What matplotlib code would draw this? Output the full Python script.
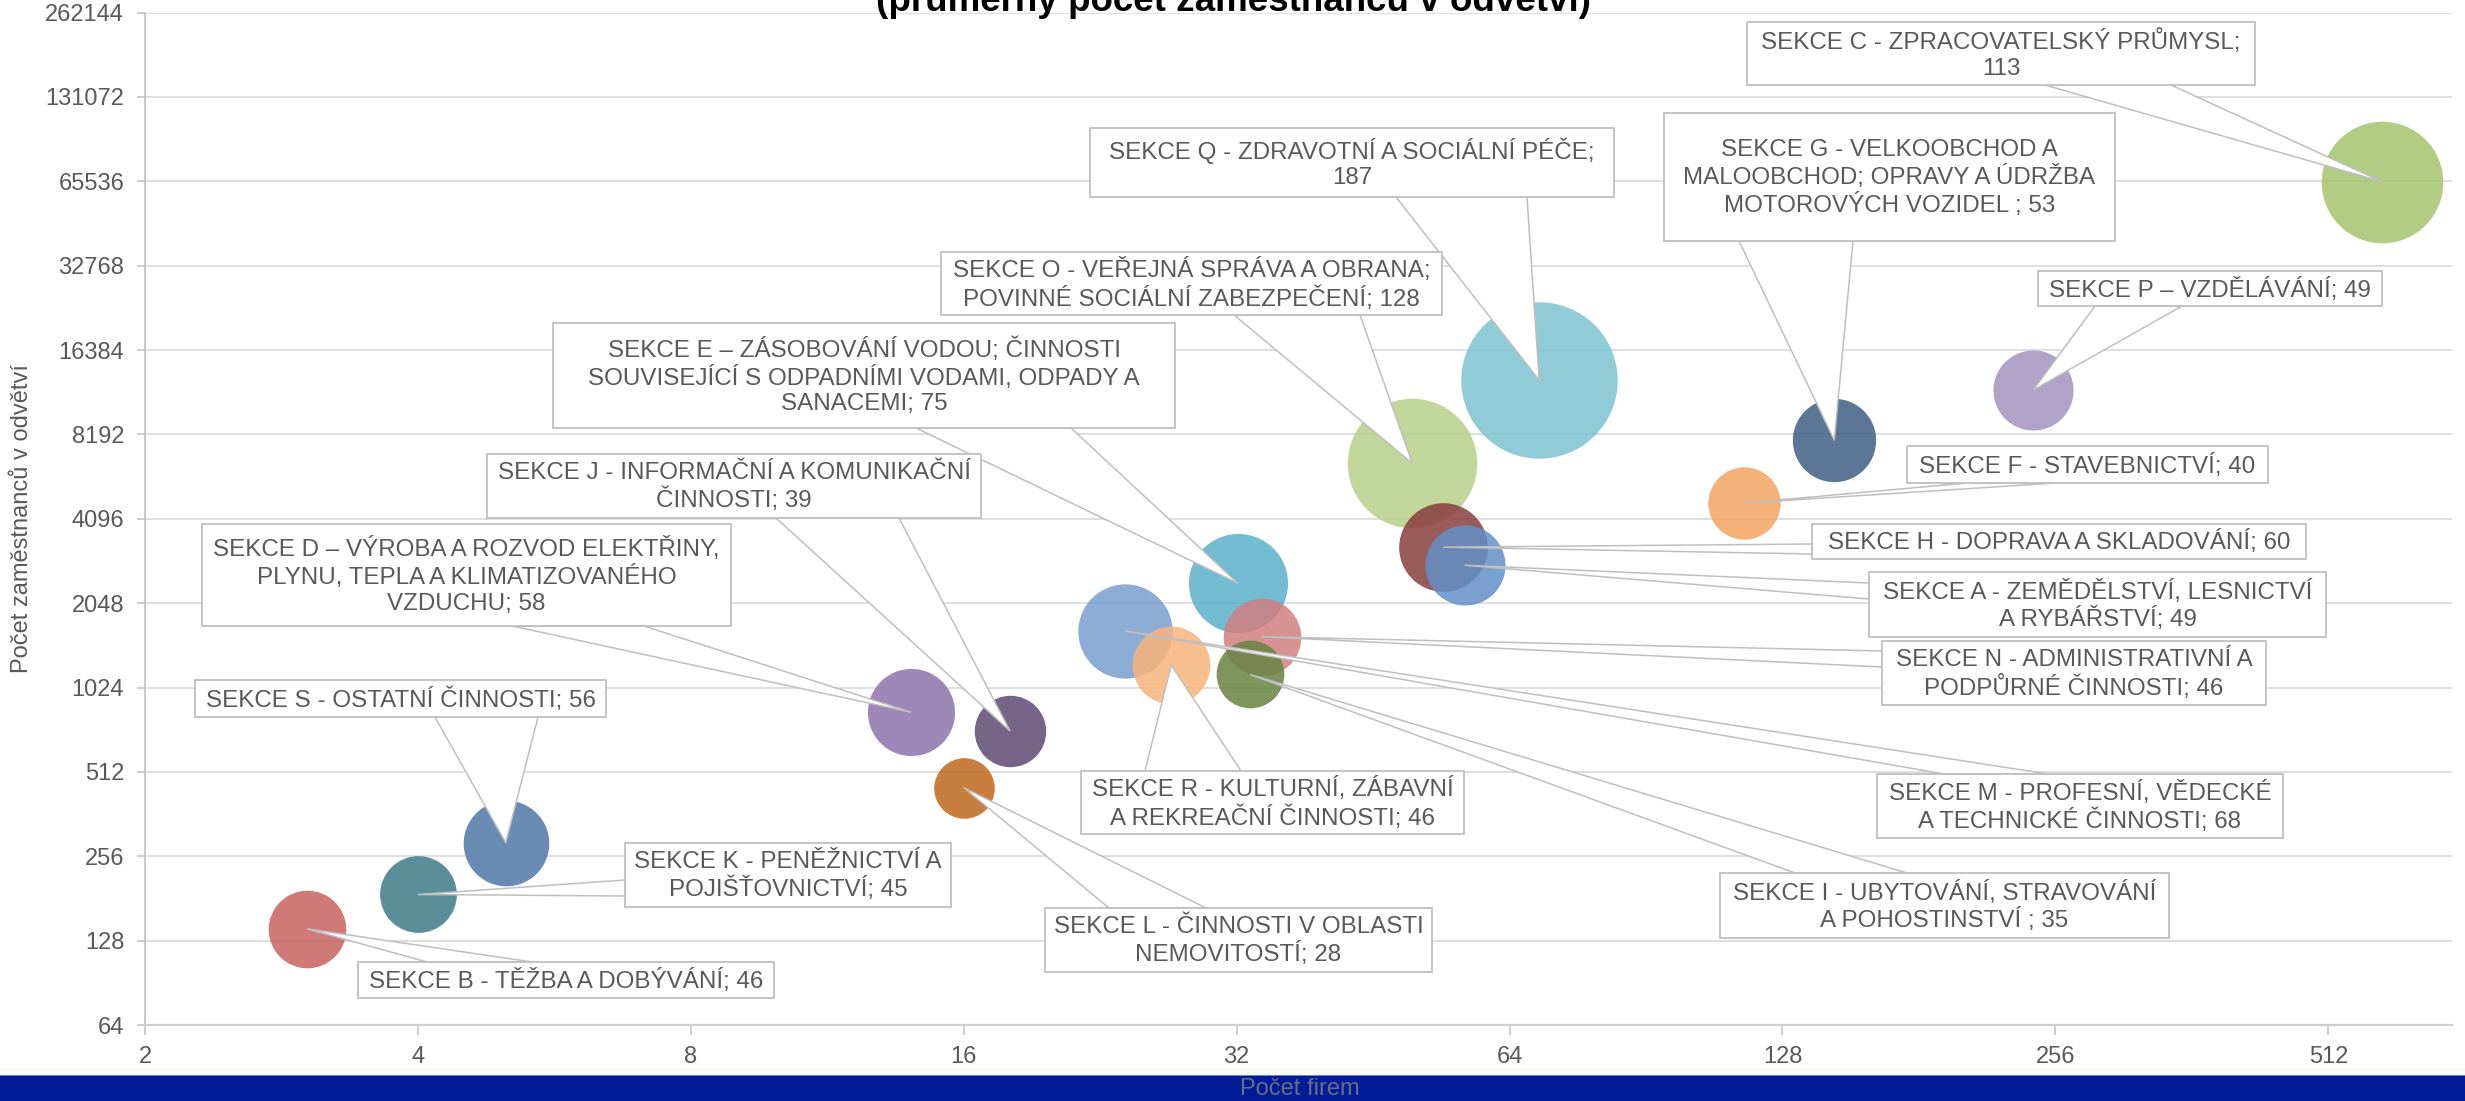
import matplotlib
matplotlib.use('Agg')
import matplotlib.pyplot as plt
from matplotlib.colors import to_rgb
from matplotlib.patches import Polygon, Rectangle
from matplotlib.transforms import Affine2D, IdentityTransform

plt.rcParams['font.family'] = ['Liberation Sans', 'DejaVu Sans']

W, H = 2465, 1101
TEXT = '#595959'
LINE = '#bfbfbf'
ALPHA = 0.85

# data: one bubble per section (x = number of firms, y = employees, size = value in label)
sections = ['A', 'B', 'C', 'D', 'E', 'F', 'G', 'H', 'I', 'J',
            'K', 'L', 'M', 'N', 'O', 'P', 'Q', 'R', 'S']
label_templates = [
    'SEKCE A - ZEMĚDĚLSTVÍ, LESNICTVÍ\nA RYBÁŘSTVÍ; {}',
    'SEKCE B - TĚŽBA A DOBÝVÁNÍ; {}',
    'SEKCE C - ZPRACOVATELSKÝ PRŮMYSL;\n{}',
    'SEKCE D – VÝROBA A ROZVOD ELEKTŘINY,\nPLYNU, TEPLA A KLIMATIZOVANÉHO\nVZDUCHU; {}',
    'SEKCE E – ZÁSOBOVÁNÍ VODOU; ČINNOSTI\nSOUVISEJÍCÍ S ODPADNÍMI VODAMI, ODPADY A\nSANACEMI; {}',
    'SEKCE F - STAVEBNICTVÍ; {}',
    'SEKCE G - VELKOOBCHOD A\nMALOOBCHOD; OPRAVY A ÚDRŽBA\nMOTOROVÝCH VOZIDEL ; {}',
    'SEKCE H - DOPRAVA A SKLADOVÁNÍ; {}',
    'SEKCE I - UBYTOVÁNÍ, STRAVOVÁNÍ\nA POHOSTINSTVÍ ; {}',
    'SEKCE J - INFORMAČNÍ A KOMUNIKAČNÍ\nČINNOSTI; {}',
    'SEKCE K - PENĚŽNICTVÍ A\nPOJIŠŤOVNICTVÍ; {}',
    'SEKCE L - ČINNOSTI V OBLASTI\nNEMOVITOSTÍ; {}',
    'SEKCE M - PROFESNÍ, VĚDECKÉ\nA TECHNICKÉ ČINNOSTI; {}',
    'SEKCE N - ADMINISTRATIVNÍ A\nPODPŮRNÉ ČINNOSTI; {}',
    'SEKCE O - VEŘEJNÁ SPRÁVA A OBRANA;\nPOVINNÉ SOCIÁLNÍ ZABEZPEČENÍ; {}',
    'SEKCE P – VZDĚLÁVÁNÍ; {}',
    'SEKCE Q - ZDRAVOTNÍ A SOCIÁLNÍ PÉČE;\n{}',
    'SEKCE R - KULTURNÍ, ZÁBAVNÍ\nA REKREAČNÍ ČINNOSTI; {}',
    'SEKCE S - OSTATNÍ ČINNOSTI; {}',
]
firms = [57.1, 3.02, 587, 14.0, 32.1, 116, 146, 54.1, 33.1, 18.0,
         4.0, 16.0, 24.1, 34.1, 50.0, 242, 69.0, 27.1, 5.0]
employees = [2797, 141, 65300, 836, 2412, 4660, 7810, 3245, 1140, 716,
             187, 450, 1629, 1555, 6460, 11800, 12800, 1232, 286]
values = [49, 46, 113, 58, 75, 40, 53, 60, 35, 39,
          45, 28, 68, 46, 128, 49, 187, 46, 56]
# colours as they look on white
colors = ['#7aa0cf', '#d07a78', '#b3cd83', '#9e88b8', '#72bcd0', '#f6b27a',
          '#5c7796', '#9a5b5b', '#7e965e', '#776587', '#5a8f99', '#c87f3e',
          '#8eadd6', '#d99294', '#c3d59b', '#b2a2c7', '#92cbd9', '#f8bf8e',
          '#6a8cb4']
x_ticks = [2, 4, 8, 16, 32, 64, 128, 256, 512]
y_ticks = [64, 128, 256, 512, 1024, 2048, 4096, 8192, 16384,
           32768, 65536, 131072, 262144]

# callout layout in image pixels (left, top, right, bottom) + pointer base points
boxes = {
    'A': (1869, 572, 2326, 637), 'B': (358, 962, 774, 998),
    'C': (1747, 22, 2255, 85), 'D': (202, 524, 731, 626),
    'E': (553, 323, 1175, 428), 'F': (1907, 446, 2268, 483),
    'G': (1664, 113, 2115, 241), 'H': (1812, 524, 2306, 559),
    'I': (1720, 873, 2169, 938), 'J': (487, 454, 981, 518),
    'K': (625, 843, 951, 907), 'L': (1045, 908, 1432, 972),
    'M': (1877, 774, 2283, 838), 'N': (1882, 641, 2266, 705),
    'O': (941, 252, 1442, 315), 'P': (2038, 271, 2382, 306),
    'Q': (1090, 128, 1614, 197), 'R': (1081, 771, 1464, 834),
    'S': (195, 680, 606, 717),
}
bases = {
    'A': ((1869, 583), (1869, 599)), 'B': ((427, 962), (532, 962)),
    'C': ((2045, 85), (2171, 85)), 'D': ((512, 626), (644, 626)),
    'E': ((916, 428), (1071, 428)), 'F': ((1967, 483), (2056, 483)),
    'G': ((1739, 241), (1853, 241)), 'H': ((1812, 544), (1812, 554)),
    'I': ((1795, 873), (1907, 873)), 'J': ((776, 518), (899, 518)),
    'K': ((625, 880), (625, 896)), 'L': ((1109, 908), (1206, 908)),
    'M': ((1944, 774), (2048, 774)), 'N': ((1882, 651), (1882, 667)),
    'O': ((1234, 315), (1360, 315)), 'P': ((2095, 306), (2182, 306)),
    'Q': ((1396, 197), (1527, 197)), 'R': ((1145, 771), (1241, 771)),
    'S': ((435, 717), (538, 717)),
}


def base_color(hexcol):
    # colour that gives hexcol when drawn with ALPHA on white
    return tuple(min(1, max(0, (c - (1 - ALPHA)) / ALPHA)) for c in to_rgb(hexcol))


fig = plt.figure(figsize=(W / 100, H / 100), dpi=100)
ax = fig.add_axes([145 / W, 76 / H, (2452 - 145) / W, (1025 - 12.6) / H])
px = Affine2D().scale(1, -1).translate(0, H)  # image pixels -> display

ax.set_xscale('log', base=2)
ax.set_yscale('log', base=2)
ax.set_xlim(2, 701)
ax.set_ylim(64, 262144)
ax.set_xticks(x_ticks)
ax.set_xticklabels([str(t) for t in x_ticks])
ax.set_yticks(y_ticks)
ax.set_yticklabels([str(t) for t in y_ticks])
ax.minorticks_off()
ax.tick_params(axis='both', colors=LINE, labelcolor=TEXT, labelsize=17, width=1.1)
ax.tick_params(axis='x', length=7, pad=8)
ax.tick_params(axis='y', length=6, pad=9)
ax.grid(axis='y', color='#d9d9d9', lw=1.2)
ax.set_axisbelow(True)
for s in ['top', 'right']:
    ax.spines[s].set_visible(False)
ax.spines['left'].set_color(LINE)
ax.spines['left'].set_linewidth(1.2)
ax.spines['bottom'].set_color('#cfcfcf')
ax.spines['bottom'].set_linewidth(1.6)

# bubbles, bigger drawn first
order = sorted(range(len(values)), key=lambda i: -values[i])
for i in order:
    ax.scatter(firms[i], employees[i], s=67.85 * values[i],
               color=base_color(colors[i]), alpha=ALPHA, linewidths=0, zorder=2)

# callouts
for i, sec in enumerate(sections):
    tx, ty = ax.transData.transform((firms[i], employees[i]))
    (b1x, b1y), (b2x, b2y) = bases[sec]
    pts = [(b1x, H - b1y), (tx, ty), (b2x, H - b2y)]
    ax.add_patch(Polygon(pts, closed=True, facecolor='white', edgecolor=LINE,
                         lw=1.1, transform=IdentityTransform(), clip_on=False,
                         zorder=4, joinstyle='miter'))
for i, sec in enumerate(sections):
    x0, y0, x1, y1 = boxes[sec]
    ax.add_patch(Rectangle((x0, y0), x1 - x0, y1 - y0, facecolor='white',
                           edgecolor=LINE, lw=1.3, transform=px,
                           clip_on=False, zorder=5))
    ax.text((x0 + x1) / 2, (y0 + y1) / 2 + 1, label_templates[i].format(values[i]),
            transform=px, ha='center', va='center', ma='center', fontsize=17.4,
            color=TEXT, linespacing=1.2, zorder=6, clip_on=False)

# titles and axis labels
fig.text(1234 / W, 1 - 11 / H, '(průměrný počet zaměstnanců v odvětví)',
         ha='center', va='baseline', fontsize=26.5, fontweight='bold', color='black')
fig.text(22 / W, 1 - 519 / H, 'Počet zaměstnanců v odvětví', rotation=90,
         ha='center', va='center', fontsize=17, color=TEXT)

# footer band
fig.add_artist(Rectangle((0, 0), 1, 33 / H, transform=fig.transFigure,
                         facecolor='#f8faf5', edgecolor='none', zorder=0))
fig.add_artist(Rectangle((0, 0), 1, 26 / H, transform=fig.transFigure,
                         facecolor='#001c94', edgecolor='none', zorder=1))
fig.add_artist(Rectangle((0, 25 / H), 1, 1.5 / H, transform=fig.transFigure,
                         facecolor='#6f82c4', edgecolor='none', zorder=1))
fig.text(1300 / W, 12 / H, 'Počet firem', ha='center', va='center',
         fontsize=17, color='#6a6a8a', zorder=2)

fig.savefig('out.png', dpi=100)
